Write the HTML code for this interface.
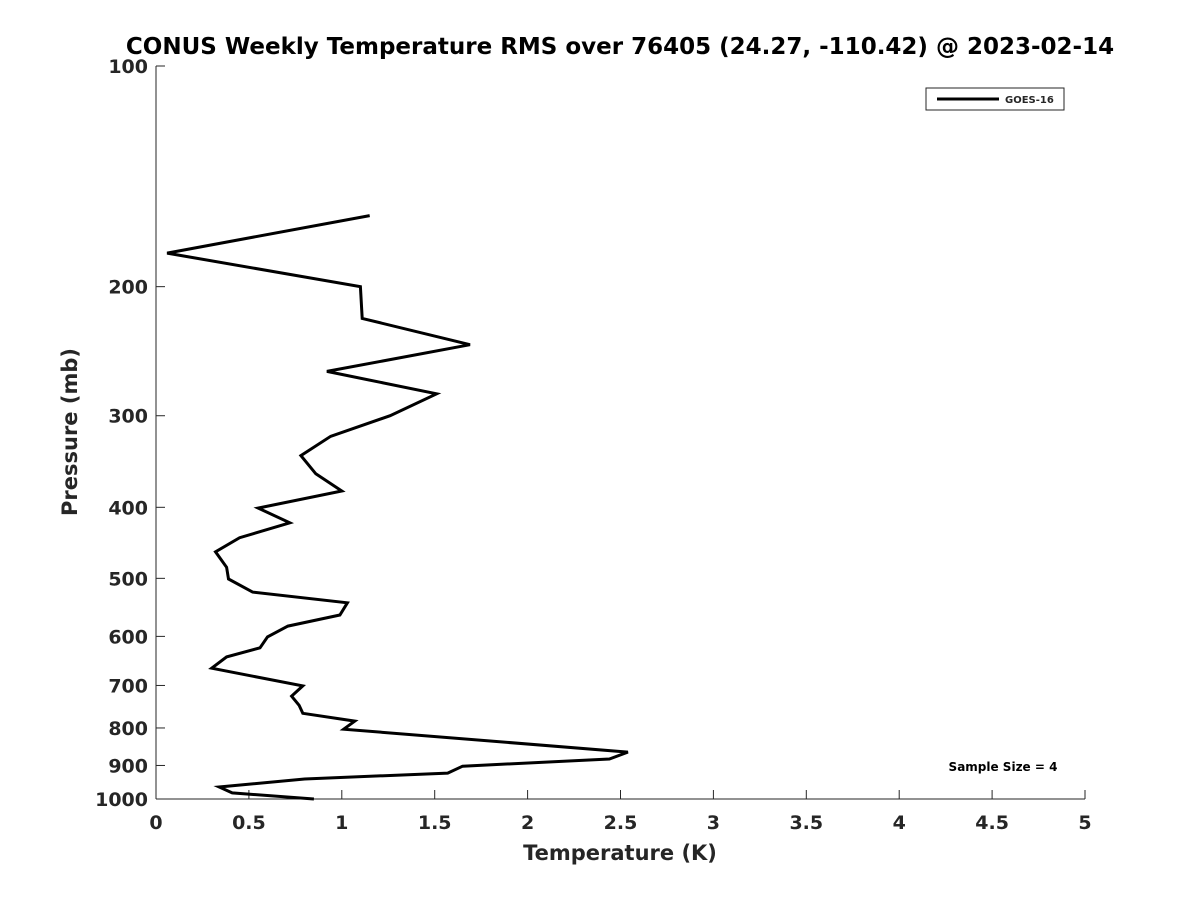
<!DOCTYPE html>
<html><head><meta charset="utf-8"><style>
body{margin:0;background:#fff;}
svg text{font-family:"DejaVu Sans","Liberation Sans",sans-serif;font-weight:bold;fill:#262626;}
</style></head><body>
<svg id="chart" width="1200" height="900" xmlns="http://www.w3.org/2000/svg">
<rect width="1200" height="900" fill="#fff"/>
<text x="620" y="54" text-anchor="middle" font-size="23" style="fill:#000">CONUS Weekly Temperature RMS over 76405 (24.27, -110.42) @ 2023-02-14</text>
<g id="axes"></g>
<g id="plot"></g>
<g>
<rect x="926" y="88" width="138" height="22" fill="#fff" stroke="#262626" stroke-width="1"/>
<line x1="937" y1="99" x2="999" y2="99" stroke="#000" stroke-width="3"/>
<text x="1005" y="103" font-size="10">GOES-16</text>
</g>
<text x="1003" y="771" text-anchor="middle" font-size="12" style="fill:#000">Sample Size = 4</text>
<text x="620" y="860" text-anchor="middle" font-size="21">Temperature (K)</text>
<text transform="translate(77,432) rotate(-90)" text-anchor="middle" font-size="21">Pressure (mb)</text>
</svg>
<script>
const rmsValues=[1.15,0.06,1.10,1.11,1.69,0.92,1.51,1.26,0.94,0.78,0.86,1.00,0.55,0.72,0.45,0.32,0.38,0.39,0.52,1.03,0.99,0.71,0.60,0.56,0.38,0.30,0.79,0.73,0.77,0.79,1.07,1.01,2.54,2.44,1.65,1.57,0.80,0.34,0.41,0.85];
const pressures=[160,180,200,221,240,261,280,300,320,340,360,380,401,420,440,460,483,501,522,540,561,581,601,622,640,663,701,724,745,764,783,803,863,882,902,922,939,963,981,1000];
const xTicks=[0,0.5,1,1.5,2,2.5,3,3.5,4,4.5,5];
const xTickLabels=["0","0.5","1","1.5","2","2.5","3","3.5","4","4.5","5"];
const yTicks=[100,200,300,400,500,600,700,800,900,1000];
const yTickLabels=["100","200","300","400","500","600","700","800","900","1000"];
const X0=156,X1=1085,Y0=66,Y1=799;
function xs(v){return X0+(v-0)/(5-0)*(X1-X0);}
function ys(p){return Y0+(Math.log10(p)-2)/(3-2)*(Y1-Y0);}
const NS="http://www.w3.org/2000/svg";
const axes=document.getElementById('axes');
function mk(t,a,parent){const e=document.createElementNS(NS,t);for(const k in a)e.setAttribute(k,a[k]);parent.appendChild(e);return e;}
let l=mk('line',{x1:X0,y1:Y0,x2:X0,y2:Y1,stroke:'#262626','stroke-width':1},axes);


l=mk('line',{x1:X0,y1:Y1,x2:X1,y2:Y1,stroke:'#262626','stroke-width':1},axes);


xTicks.forEach((v,i)=>{
 const x=xs(v);
 const t=mk('line',{x1:x,y1:Y1,x2:x,y2:Y1-9,stroke:'#262626'},axes);
 
 
 const tx=mk('text',{x:x,y:Y1+30,'text-anchor':'middle','font-size':'19'},axes);
 tx.textContent=xTickLabels[i];
 
 
});
yTicks.forEach((p,i)=>{
 const y=ys(p);
 const t=mk('line',{x1:X0,y1:y,x2:X0+9,y2:y,stroke:'#262626'},axes);
 
 
 const tx=mk('text',{x:X0-8,y:y+7,'text-anchor':'end','font-size':'19'},axes);
 tx.textContent=yTickLabels[i];
 
 
});
const pts=rmsValues.map((v,i)=>xs(v).toFixed(1)+','+ys(pressures[i]).toFixed(1)).join(' ');
const line=mk('polyline',{points:pts,fill:'none',stroke:'#000','stroke-width':3,'stroke-linejoin':'miter'},document.getElementById('plot'));


</script>
</body></html>
